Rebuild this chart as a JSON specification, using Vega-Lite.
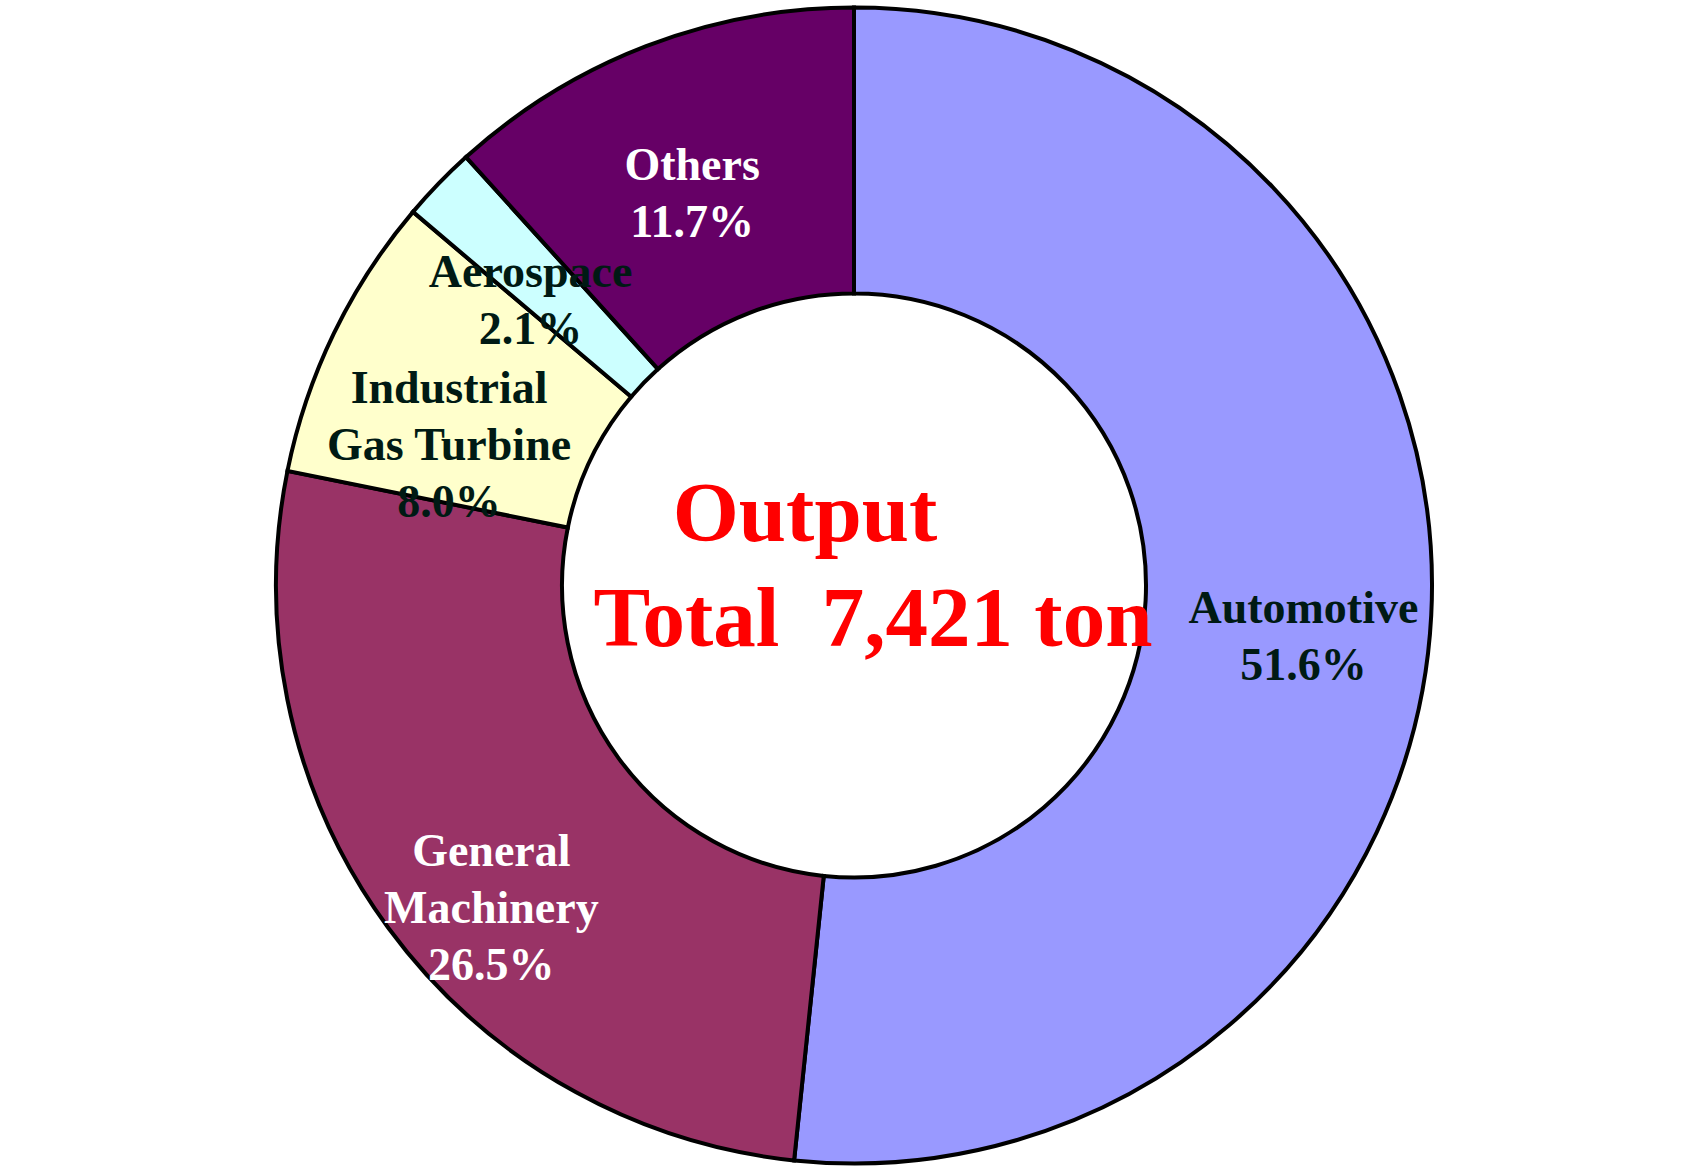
{
  "$schema": "https://vega.github.io/schema/vega-lite/v6.json",
  "width": 1708,
  "height": 1171,
  "autosize": {"type": "fit", "contains": "padding"},
  "background": "white",
  "view": {"stroke": null},
  "data": {
    "values": [
      {"sector": "Automotive", "share": 51.6, "order": 1, "label": "Automotive\n51.6%"},
      {"sector": "General Machinery", "share": 26.5, "order": 2, "label": "General\nMachinery\n26.5%"},
      {"sector": "Industrial Gas Turbine", "share": 8.0, "order": 3, "label": "Industrial\nGas Turbine\n8.0%"},
      {"sector": "Aerospace", "share": 2.1, "order": 4, "label": "Aerospace\n2.1%"},
      {"sector": "Others", "share": 11.7, "order": 5, "label": "Others\n11.7%"}
    ]
  },
  "encoding": {
    "theta": {"field": "share", "type": "quantitative", "stack": true},
    "order": {"field": "order", "type": "quantitative"}
  },
  "layer": [
    {
      "mark": {"type": "arc", "outerRadius": 578, "innerRadius": 292, "stroke": "black", "strokeWidth": 4},
      "encoding": {
        "fill": {
          "field": "sector",
          "type": "nominal",
          "scale": {
            "domain": ["Automotive", "General Machinery", "Industrial Gas Turbine", "Aerospace", "Others"],
            "range": ["#9999FF", "#993366", "#FFFFCC", "#CCFFFF", "#660066"]
          },
          "legend": null
        }
      }
    },
    {
      "mark": {"type": "text", "radius": 450, "font": "Liberation Serif", "fontWeight": "bold", "fontSize": 46, "lineHeight": 57, "align": "center", "baseline": "middle", "lineBreak": "\n"},
      "encoding": {
        "text": {"field": "label", "type": "nominal"},
        "color": {
          "field": "sector",
          "type": "nominal",
          "scale": {
            "domain": ["Automotive", "General Machinery", "Industrial Gas Turbine", "Aerospace", "Others"],
            "range": ["#001a14", "#ffffff", "#001a14", "#001a14", "#ffffff"]
          },
          "legend": null
        }
      }
    },
    {
      "data": {"values": [{"t": "Output"}]},
      "mark": {"type": "text", "font": "Liberation Serif", "fontWeight": "bold", "fontSize": 85, "color": "#ff0000", "align": "center", "baseline": "alphabetic", "dx": -49, "dy": -45},
      "encoding": {"text": {"field": "t", "type": "nominal"}, "theta": null, "order": null}
    },
    {
      "data": {"values": [{"t": "Total\u00a0 7,421 ton"}]},
      "mark": {"type": "text", "font": "Liberation Serif", "fontWeight": "bold", "fontSize": 85, "color": "#ff0000", "align": "center", "baseline": "alphabetic", "dx": 19, "dy": 60},
      "encoding": {"text": {"field": "t", "type": "nominal"}, "theta": null, "order": null}
    }
  ],
  "resolve": {"scale": {"color": "independent", "fill": "independent", "theta": "independent"}}
}
